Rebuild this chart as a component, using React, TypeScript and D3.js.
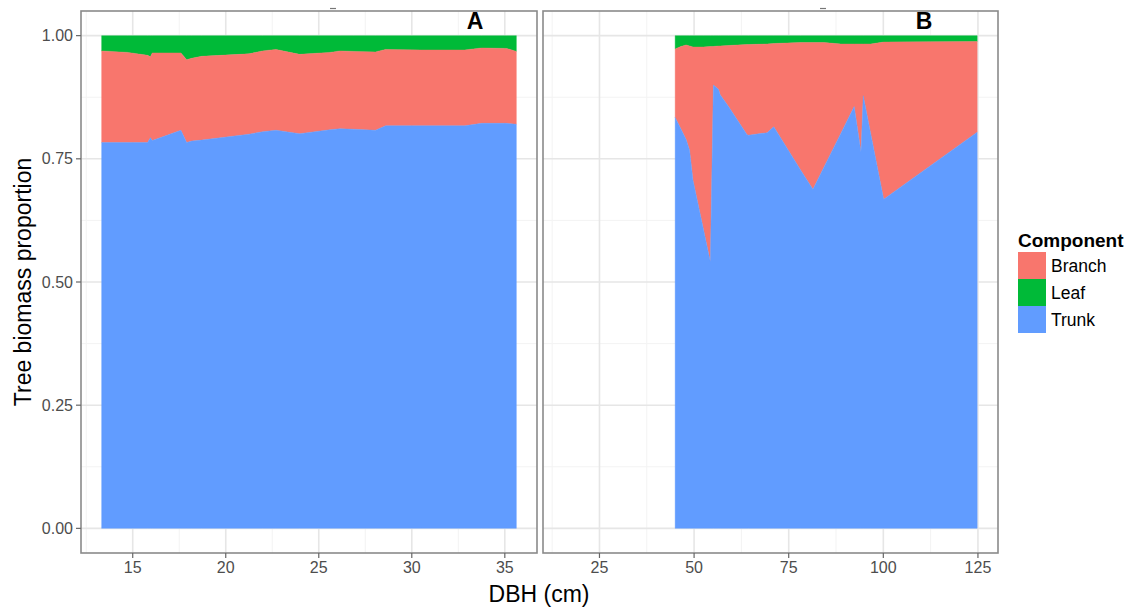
import React from "react";
import * as d3 from "d3";

// ---------- data ----------
const components = ["Branch", "Leaf", "Trunk"];
const componentColors = ["#F8766D", "#00BA38", "#619CFF"];

// Panel A
const dbhA = [13.33, 14.73, 15.8, 15.95, 16.05, 17.59, 17.9, 18.17, 18.71, 21.25, 21.98, 22.7, 23.97, 25.6, 26.15, 26.87, 28.05, 28.59, 30.5, 32.85, 33.76, 35.1, 35.62];
const trunkA = [0.783, 0.783, 0.783, 0.793, 0.787, 0.808, 0.783, 0.786, 0.788, 0.8, 0.805, 0.808, 0.801, 0.809, 0.811, 0.81, 0.808, 0.817, 0.817, 0.817, 0.822, 0.822, 0.82];
const branchA = [0.186, 0.183, 0.177, 0.164, 0.178, 0.157, 0.168, 0.168, 0.17, 0.163, 0.164, 0.164, 0.161, 0.157, 0.158, 0.158, 0.159, 0.155, 0.154, 0.154, 0.153, 0.152, 0.148];
const leafA = [0.031, 0.034, 0.04, 0.043, 0.035, 0.035, 0.049, 0.046, 0.042, 0.037, 0.031, 0.028, 0.038, 0.034, 0.031, 0.032, 0.033, 0.028, 0.029, 0.029, 0.025, 0.026, 0.032];

// Panel B
const dbhB = [45.0, 46.5, 47.9, 48.8, 49.7, 52.5, 54.3, 55.1, 56.45, 56.9, 59.1, 64.0, 64.4, 69.3, 71.05, 78.1, 81.4, 84.3, 88.8, 92.3, 94.1, 94.7, 96.7, 100.1, 124.8];
const trunkB = [0.834, 0.811, 0.789, 0.768, 0.707, 0.606, 0.541, 0.9, 0.891, 0.88, 0.856, 0.799, 0.798, 0.803, 0.815, 0.728, 0.688, 0.733, 0.802, 0.856, 0.764, 0.878, 0.8, 0.668, 0.804];
const branchB = [0.139, 0.167, 0.192, 0.211, 0.27, 0.371, 0.437, 0.078, 0.088, 0.099, 0.124, 0.183, 0.184, 0.18, 0.169, 0.258, 0.298, 0.253, 0.181, 0.127, 0.219, 0.105, 0.183, 0.319, 0.184];
const leafB = [0.027, 0.022, 0.019, 0.021, 0.023, 0.023, 0.022, 0.022, 0.021, 0.021, 0.02, 0.018, 0.018, 0.017, 0.016, 0.014, 0.014, 0.014, 0.017, 0.017, 0.017, 0.017, 0.017, 0.013, 0.012];

// axes
const xLimitsA = [12.22, 36.73];
const xLimitsB = [10.08, 130.3];
const xTicksA = [15, 20, 25, 30, 35];
const xMinorA = [12.5, 17.5, 22.5, 27.5, 32.5];
const xTicksB = [25, 50, 75, 100, 125];
const xMinorB = [12.5, 37.5, 62.5, 87.5, 112.5];
const yTicks = [0, 0.25, 0.5, 0.75, 1];
const yMinor = [0.125, 0.375, 0.625, 0.875];
const yLimits = [-0.05, 1.05];

const FONT = "'Liberation Sans', Arial, Helvetica, sans-serif";

const PANEL_TOP = 11;
const PANEL_BOTTOM = 553;

type PanelProps = {
  x0: number;
  x1: number;
  limits: number[];
  ticks: number[];
  minor: number[];
  dbh: number[];
  trunk: number[];
  branch: number[];
  leaf: number[];
  label: string;
  labelX: number;
  markX: number;
};

function Panel(p: PanelProps) {
  const x = d3.scaleLinear().domain(p.limits).range([p.x0, p.x1]);
  const y = d3.scaleLinear().domain(yLimits).range([PANEL_BOTTOM, PANEL_TOP]);
  const rows = p.dbh.map((d, i) => ({
    d,
    t: p.trunk[i],
    b: p.trunk[i] + p.branch[i],
    l: p.trunk[i] + p.branch[i] + p.leaf[i],
  }));
  const trunkArea = d3.area<any>().x((r) => x(r.d)).y0(() => y(0)).y1((r) => y(r.t));
  const branchArea = d3.area<any>().x((r) => x(r.d)).y0((r) => y(r.t)).y1((r) => y(r.b));
  const leafArea = d3.area<any>().x((r) => x(r.d)).y0((r) => y(r.b)).y1(() => y(1));

  return (
    <g>
      <rect x={p.x0} y={PANEL_TOP} width={p.x1 - p.x0} height={PANEL_BOTTOM - PANEL_TOP} fill="#ffffff" />
      {p.minor.map((v) => (
        <line key={"xm" + v} x1={x(v)} x2={x(v)} y1={PANEL_TOP} y2={PANEL_BOTTOM} stroke="#f3f3f3" strokeWidth={1} />
      ))}
      {yMinor.map((v) => (
        <line key={"ym" + v} x1={p.x0} x2={p.x1} y1={y(v)} y2={y(v)} stroke="#f3f3f3" strokeWidth={1} />
      ))}
      {p.ticks.map((v) => (
        <line key={"xg" + v} x1={x(v)} x2={x(v)} y1={PANEL_TOP} y2={PANEL_BOTTOM} stroke="#e6e6e6" strokeWidth={1.6} />
      ))}
      {yTicks.map((v) => (
        <line key={"yg" + v} x1={p.x0} x2={p.x1} y1={y(v)} y2={y(v)} stroke="#e6e6e6" strokeWidth={1.6} />
      ))}
      <path d={leafArea(rows) || ""} fill={componentColors[1]} stroke={componentColors[1]} strokeWidth={0.4} />
      <path d={branchArea(rows) || ""} fill={componentColors[0]} stroke={componentColors[0]} strokeWidth={0.4} />
      <path d={trunkArea(rows) || ""} fill={componentColors[2]} stroke={componentColors[2]} strokeWidth={0.4} />
      <rect
        x={p.x0}
        y={PANEL_TOP}
        width={p.x1 - p.x0}
        height={PANEL_BOTTOM - PANEL_TOP}
        fill="none"
        stroke="#8a8a8a"
        strokeWidth={1.6}
      />
      <line x1={p.markX} x2={p.markX + 6} y1={8.5} y2={8.5} stroke="#777" strokeWidth={1.2} />
      {p.ticks.map((v) => (
        <g key={"xt" + v}>
          <line x1={x(v)} x2={x(v)} y1={PANEL_BOTTOM} y2={PANEL_BOTTOM + 5} stroke="#666" strokeWidth={1.2} />
          <text
            x={x(v)}
            y={PANEL_BOTTOM + 14}
            textAnchor="middle"
            dominantBaseline="central"
            fontFamily={FONT}
            fontSize={16}
            fill="#4d4d4d"
          >
            {String(v)}
          </text>
        </g>
      ))}
      <text
        x={p.labelX}
        y={21}
        textAnchor="middle"
        dominantBaseline="central"
        fontFamily={FONT}
        fontSize={23}
        fontWeight="bold"
        fill="#000"
      >
        {p.label}
      </text>
    </g>
  );
}

export default function App() {
  const y = d3.scaleLinear().domain(yLimits).range([PANEL_BOTTOM, PANEL_TOP]);
  const fmt = d3.format(".2f");
  return (
    <svg
      width={1132}
      height={608}
      viewBox="0 0 1132 608"
      style={{ position: "absolute", left: 0, top: 0, background: "#fff" }}
    >
      <rect x={0} y={0} width={1132} height={608} fill="#fff" />
      <Panel
        x0={81}
        x1={537}
        limits={xLimitsA}
        ticks={xTicksA}
        minor={xMinorA}
        dbh={dbhA}
        trunk={trunkA}
        branch={branchA}
        leaf={leafA}
        label="A"
        labelX={475}
        markX={330}
      />
      <Panel
        x0={543}
        x1={998}
        limits={xLimitsB}
        ticks={xTicksB}
        minor={xMinorB}
        dbh={dbhB}
        trunk={trunkB}
        branch={branchB}
        leaf={leafB}
        label="B"
        labelX={924}
        markX={820}
      />
      {yTicks.map((v) => (
        <g key={"yt" + v}>
          <line x1={76} x2={81} y1={y(v)} y2={y(v)} stroke="#666" strokeWidth={1.2} />
          <text
            x={73}
            y={y(v)}
            textAnchor="end"
            dominantBaseline="central"
            fontFamily={FONT}
            fontSize={16}
            fill="#4d4d4d"
          >
            {fmt(v)}
          </text>
        </g>
      ))}
      <text
        x={539}
        y={594}
        textAnchor="middle"
        dominantBaseline="central"
        fontFamily={FONT}
        fontSize={23}
        fill="#000"
      >
        DBH (cm)
      </text>
      <text
        transform="translate(23,282) rotate(-90)"
        textAnchor="middle"
        dominantBaseline="central"
        fontFamily={FONT}
        fontSize={23}
        fill="#000"
      >
        Tree biomass proportion
      </text>
      <g>
        <text x={1018} y={240} dominantBaseline="central" fontFamily={FONT} fontSize={19} fontWeight="bold" fill="#000">
          Component
        </text>
        {components.map((c, i) => (
          <g key={c}>
            <rect x={1018} y={252 + i * 27} width={28} height={27} fill={componentColors[i]} />
            <text
              x={1051}
              y={252 + i * 27 + 14}
              dominantBaseline="central"
              fontFamily={FONT}
              fontSize={17.5}
              fill="#000"
            >
              {c}
            </text>
          </g>
        ))}
      </g>
    </svg>
  );
}
